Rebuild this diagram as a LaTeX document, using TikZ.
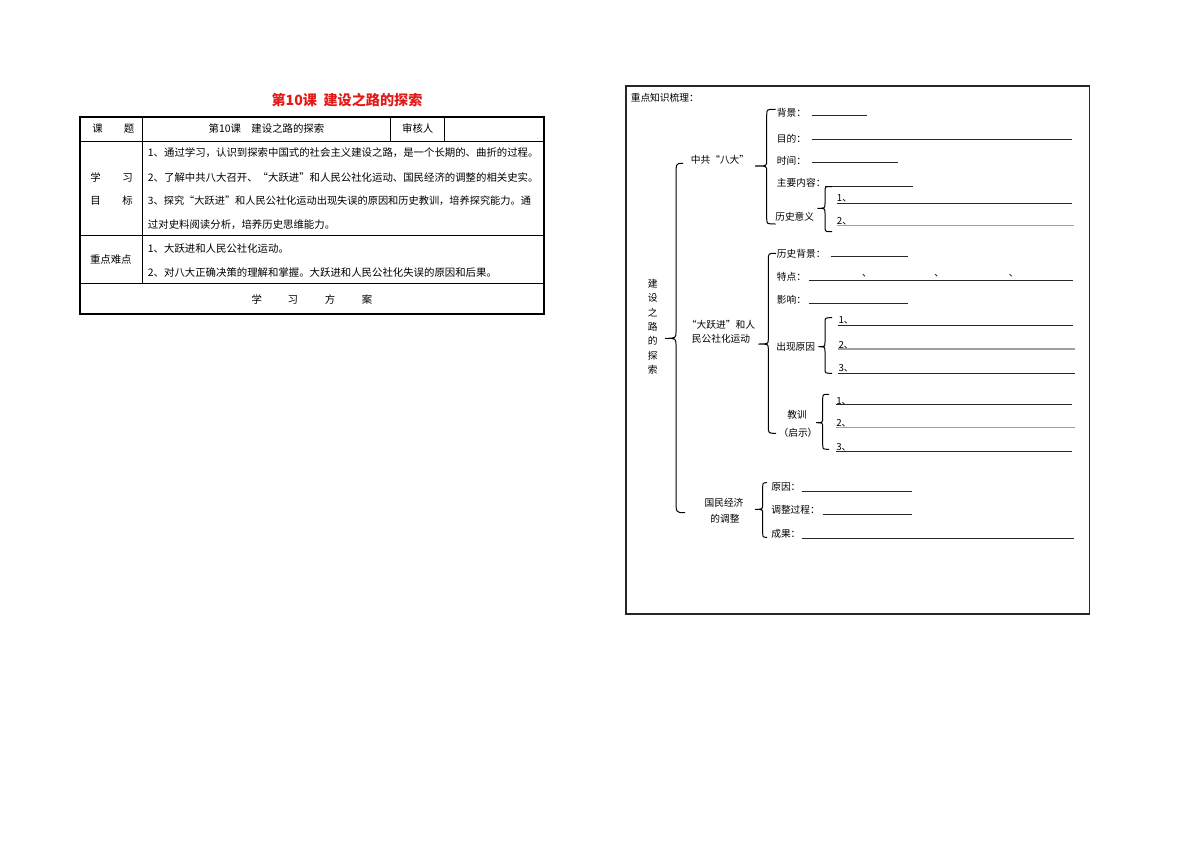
\documentclass[tikz,border=0pt]{standalone}
\usepackage{fontspec}
\setmainfont{Noto Sans CJK SC}
\newcommand\ft{\fontsize{7.8}{9}\selectfont}
\newcommand\ftn{\fontsize{7.65}{9}\selectfont}
\newcommand\fr{\fontsize{7.3}{9}\selectfont}
\newcommand\frv{\fontsize{7.3}{10.8}\selectfont}
\newcommand\frw{\fontsize{7.3}{10.7}\selectfont}
\definecolor{titlered}{RGB}{230,25,25}
\definecolor{ink}{RGB}{40,40,40}
\definecolor{lightink}{RGB}{160,160,160}
% #1 spine x, #2 top y, #3 mid y, #4 bottom y, #5 tip x, #6 end x, #7 radius
\newcommand\bracepath[7]{%
  \draw[bracestyle] (#6,#2) .. controls (#1,#2) .. (#1,#2+#7) -- (#1,#3-5)
    .. controls (#1,#3) .. (#5,#3) .. controls (#1,#3) .. (#1,#3+5)
    -- (#1,#4-#7) .. controls (#1,#4) .. (#6,#4);}
\begin{document}
\begin{tikzpicture}[x=0.75pt,y=-0.75pt,
  tcell/.style={inner sep=0pt,font=\ft,text=black},
  tleft/.style={tcell,anchor=west},
  lab/.style={inner sep=0pt,anchor=west,font=\fr,text=black},
  labc/.style={inner sep=0pt,font=\fr,text=black},
  blank/.style={draw=ink,line width=0.6pt},
  blankgray/.style={draw=lightink,line width=1pt},
  bracestyle/.style={draw=black,line width=0.75pt},
  outerline/.style={draw=black,line width=1.1pt},
  innerline/.style={draw=black,line width=0.6pt},
  frame/.style={draw=black!85,line width=1.2pt}]
\path[fill=white] (0,0) rectangle (1191,842);

% ---------- left: title and table ----------
\node[inner sep=0pt,font=\fontsize{10.6}{12}\selectfont\bfseries,text=titlered] (title) at (347,100.5) {第10课\ \ 建设之路的探索};

\draw[outerline] (80,117) rectangle (544,314);
\draw[innerline] (80,141) -- (544,141);
\draw[innerline] (80,235.5) -- (544,235.5);
\draw[innerline] (80,283) -- (544,283);
\draw[innerline] (142.5,117) -- (142.5,283);
\draw[innerline] (390.5,117) -- (390.5,141);
\draw[innerline] (444.5,117) -- (444.5,141);

\node[tcell] (ke) at (97.5,129) {课};
\node[tcell] (ti) at (129,129) {题};
\node[tcell] (topic) at (266.5,129) {第10课\quad 建设之路的探索};
\node[tcell] (shr) at (417.7,129) {审核人};

\node[tcell] (xue) at (95.5,177.7) {学};
\node[tcell] (xi) at (127.5,177.7) {习};
\node[tcell] (mu) at (95.5,201) {目};
\node[tcell] (biao) at (127.5,201) {标};
\node[tleft] (g1) at (147.7,153) {1、通过学习，认识到探索中国式的社会主义建设之路，是一个长期的、曲折的过程。};
\node[tleft] (g2) at (147.7,177.7) {2、了解中共八大召开、“大跃进”和人民公社化运动、国民经济的调整的相关史实。};
\node[tleft,font=\ftn] (g3) at (147.7,201) {3、探究“大跃进”和人民公社化运动出现失误的原因和历史教训，培养探究能力。通};
\node[tleft] (g4) at (147.7,224.5) {过对史料阅读分析，培养历史思维能力。};

\node[tcell] (zdnd) at (110.8,260) {重点难点};
\node[tleft] (d1) at (147.7,249) {1、大跃进和人民公社化运动。};
\node[tleft] (d2) at (147.7,272.7) {2、对八大正确决策的理解和掌握。大跃进和人民公社化失误的原因和后果。};

\node[tcell] (fa1) at (256.7,299.5) {学};
\node[tcell] (fa2) at (292.7,299.5) {习};
\node[tcell] (fa3) at (330,299.5) {方};
\node[tcell] (fa4) at (367,299.5) {案};

% ---------- right: knowledge map ----------
\draw[frame] (626,86) rectangle (1089.5,614);
\node[lab] (head) at (630.5,97.3) {重点知识梳理：};

\node[labc,align=center,font=\frv] (root) at (652.7,326.7) {建\\设\\之\\路\\的\\探\\索};
\draw[bracestyle] (683,163.3) .. controls (676,163.3) .. (676,176) -- (676,331)
  .. controls (676,338.3) .. (665,338.3) .. controls (676,338.3) .. (676,345.5)
  -- (676,500) .. controls (676,512.7) .. (685,512.7);

% section 1
\node[labc] (bada) at (720,160) {中共“八大”};
\bracepath{766.7}{109.3}{166}{224}{755}{775.5}{6}
\node[lab] (bj) at (776.7,113.3) {背景：};
\draw[blank] (811.7,115.7) -- (866.7,115.7);
\node[lab] (md) at (776.7,138.3) {目的：};
\draw[blank] (811.7,139.8) -- (1071.7,139.8);
\node[lab] (sj) at (776.7,161) {时间：};
\draw[blank] (811.7,162.8) -- (897.7,162.8);
\node[lab] (zynr) at (776.7,182.3) {主要内容：};
\draw[blank] (825,186.5) -- (913,186.5);
\node[lab] (lsyy) at (775,216.7) {历史意义};
\bracepath{825}{186.5}{208.3}{231.7}{817.3}{832}{5}
\node[lab] (yy1) at (836.7,198.3) {1、};
\draw[blank] (836.7,203.3) -- (1072.3,203.3);
\node[lab] (yy2) at (836.7,221.7) {2、};
\draw[blankgray] (836.7,225.7) -- (1074,225.7);

% section 2
\node[labc,align=center,font=\frw] (dyj) at (721,332) {“大跃进”和人\\民公社化运动};
\bracepath{768.3}{253.3}{344}{433.3}{758.3}{776}{7}
\node[lab] (lsbj) at (776.7,253.3) {历史背景：};
\draw[blank] (830.7,256.7) -- (908.3,256.7);
\node[lab] (td) at (776.7,276.7) {特点：};
\draw[blank] (809.3,280) -- (1073.3,280);
\node[labc] (dun1) at (867,276) {、};
\node[labc] (dun2) at (939.3,276) {、};
\node[labc] (dun3) at (1013.7,276) {、};
\node[lab] (yx) at (776.7,300) {影响：};
\draw[blank] (809.3,303.3) -- (908.3,303.3);
\node[lab] (cxyy) at (776,347.3) {出现原因};
\bracepath{825}{317.7}{346.7}{373.3}{818.3}{832}{5}
\node[lab] (yc1) at (838.3,320.7) {1、};
\draw[blank] (838.3,325.7) -- (1073.3,325.7);
\node[lab] (yc2) at (838.3,345.5) {2、};
\draw[blankgray] (838.3,349) -- (1075,349);
\node[lab] (yc3) at (838.3,368.3) {3、};
\draw[blank] (838.3,373.3) -- (1075,373.3);
\node[labc] (jx) at (797,415) {教训};
\node[labc] (qs) at (798,432.7) {（启示）};
\bracepath{822.7}{394.3}{422.7}{449.3}{816}{829}{5}
\node[lab] (jx1) at (836,401) {1、};
\draw[blank] (836,404.3) -- (1071.7,404.3);
\node[lab] (jx2) at (836,423.3) {2、};
\draw[blankgray] (836,427.7) -- (1075,427.7);
\node[lab] (jx3) at (836,447.3) {3、};
\draw[blank] (836,451) -- (1072,451);

% section 3
\node[labc] (gmjj) at (724,503.3) {国民经济};
\node[labc] (dtz) at (725,519) {的调整};
\bracepath{762.7}{482.7}{509.3}{537.3}{755}{767}{5}
\node[lab] (yy) at (771,487.3) {原因：};
\draw[blank] (801.7,491.7) -- (911.7,491.7);
\node[lab] (tzgc) at (771,510) {调整过程：};
\draw[blank] (822.7,514) -- (911.7,514);
\node[lab] (cg) at (771,534) {成果：};
\draw[blank] (801.7,538.3) -- (1074,538.3);
\end{tikzpicture}
\end{document}
